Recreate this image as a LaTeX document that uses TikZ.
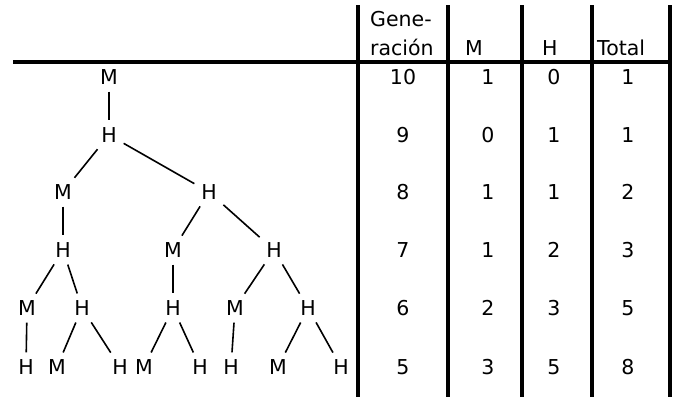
\documentclass[tikz,border=0pt]{standalone}
\usepackage{fontspec}
\setmainfont{DejaVu Sans}
\begin{document}
\begin{tikzpicture}[x=1pt,y=-1pt,
        every node/.style={font=\fontsize{20.5}{24}\selectfont},
        bee/.style={inner sep=5pt},
        head/.style={anchor=base west, inner sep=0pt},
        link/.style={line width=1.6pt, shorten <=2pt, shorten >=2pt},
        rule/.style={line width=3.5pt}]
    \useasboundingbox (0,0) rectangle (677,399);
    % family tree
    \node[bee] (m10) at (109,77) {M};
    \node[bee] (h9) at (109,135) {H};
    \node[bee] (m8a) at (63,192) {M};
    \node[bee] (h8b) at (209,192) {H};
    \node[bee] (h7a) at (63,250) {H};
    \node[bee] (m7b) at (173,250) {M};
    \node[bee] (h7c) at (274,250) {H};
    \node[bee] (m6a) at (27,308) {M};
    \node[bee] (h6b) at (82,308) {H};
    \node[bee] (h6c) at (173,308) {H};
    \node[bee] (m6d) at (235,308) {M};
    \node[bee] (h6e) at (308,308) {H};
    \node[bee] (h5a) at (26,367) {H};
    \node[bee] (m5b) at (57,367) {M};
    \node[bee] (h5c) at (120,367) {H};
    \node[bee] (m5d) at (144,367) {M};
    \node[bee] (h5e) at (200,367) {H};
    \node[bee] (h5f) at (231,367) {H};
    \node[bee] (m5g) at (278,367) {M};
    \node[bee] (h5h) at (341,367) {H};
    \foreach \a/\b in {m10/h9, h9/m8a, h9/h8b, m8a/h7a, h8b/m7b, h8b/h7c,
            h7a/m6a, h7a/h6b, m7b/h6c, h7c/m6d, h7c/h6e,
            m6a/h5a, h6b/m5b, h6b/h5c, h6c/m5d, h6c/h5e,
            m6d/h5f, h6e/m5g, h6e/h5h}
        \draw[link] (\a) -- (\b);
    % table
    \draw[rule] (13,62) -- (672,62);
    \foreach \x in {358,448,522,592,670}
        \draw[rule] (\x,5) -- (\x,397);
    \node[head] (gen1) at (370,26) {Gene-};
    \node[head] (gen2) at (370,55) {ración};
    \node[head] (colm) at (465,55) {M};
    \node[head] (colh) at (542,55) {H};
    \node[head] (colt) at (597,55) {Total};
    \foreach \y/\g/\m/\h/\t in {77/10/1/0/1, 135/9/0/1/1, 192/8/1/1/2,
            250/7/1/2/3, 308/6/2/3/5, 367/5/3/5/8} {
        \node (g\g) at (403,\y) {\g};
        \node (m\g) at (488,\y) {\m};
        \node (h\g) at (554,\y) {\h};
        \node (t\g) at (628,\y) {\t};
    }
\end{tikzpicture}
\end{document}
